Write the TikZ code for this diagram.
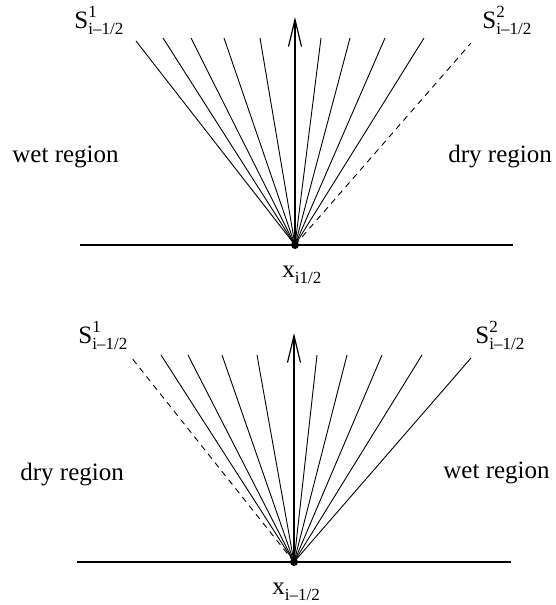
\documentclass[tikz,border=0pt]{standalone}
\usepackage{fontspec}
\setmainfont{Liberation Serif}
\usepackage{tikz}
\usetikzlibrary{arrows.meta}

\newcommand{\scriptsz}{\fontsize{8.5}{9}\selectfont}
\newcommand{\shocklab}[1]{S\rlap{\raisebox{5.2pt}{\scriptsz #1}}\raisebox{-3.2pt}{\scriptsz i\textendash 1/2}}
\newcommand{\interlab}[1]{x\raisebox{-3pt}{\scriptsz #1}}

\tikzset{
  ray/.style={line width=0.45pt},
  dryray/.style={line width=0.45pt, dash pattern=on 3pt off 2.5pt},
  axis/.style={line width=0.6pt},
  txt/.style={font=\fontsize{12.5}{15}\selectfont, inner sep=0pt, anchor=base west},
}

\begin{document}
\begin{tikzpicture}[x=0.5pt, y=-0.5pt, >={Straight Barb[length=13.5pt, width=6.5pt]}]
  \useasboundingbox (0,0) rectangle (556,605);

  % Top: dry state on the right
  \coordinate (o1) at (295,245);
  \coordinate (l1) at (80,245);
  \coordinate (r1) at (513,245);
  \coordinate (up1) at (295,17);
  \draw[axis] (l1) -- (r1);
  \foreach \n/\x/\y in {1/136/41, 2/163/38, 3/191/38, 4/224/38, 5/260/38, 6/321/38, 7/350/38, 8/385/38, 9/424/38} {
    \coordinate (a\n) at (\x,\y);
    \draw[ray] (o1) -- (a\n);
  }
  \coordinate (d1) at (471,43);
  \draw[dryray] (o1) -- (d1);
  \draw[axis, ->] (o1) -- (up1);
  \fill (o1) circle (2pt);
  \node[txt] (sa1) at (74,28) {\shocklab{1}};
  \node[txt] (sa2) at (482,28) {\shocklab{2}};
  \node[txt] (wet1) at (12,162) {wet region};
  \node[txt] (dry1) at (448,162) {dry region};
  \node[txt] (xa) at (282,277) {\interlab{i1/2}};

  % Bottom: dry state on the left
  \coordinate (o2) at (294,562);
  \coordinate (l2) at (77,562);
  \coordinate (r2) at (511,562);
  \coordinate (up2) at (294,333);
  \draw[axis] (l2) -- (r2);
  \foreach \n/\x/\y in {1/161/355, 2/188/355, 3/222/355, 4/257/355, 5/317/355, 6/347/355, 7/382/355, 8/422/355, 9/471/358} {
    \coordinate (b\n) at (\x,\y);
    \draw[ray] (o2) -- (b\n);
  }
  \coordinate (d2) at (131,357);
  \draw[dryray] (o2) -- (d2);
  \draw[axis, ->] (o2) -- (up2);
  \fill (o2) circle (2pt);
  \node[txt] (sb1) at (78,343) {\shocklab{1}};
  \node[txt] (sb2) at (475,343) {\shocklab{2}};
  \node[txt] (dry2) at (20,480) {dry region};
  \node[txt] (wet2) at (443,478) {wet region};
  \node[txt] (xb) at (272,594) {\interlab{i\textendash 1/2}};
\end{tikzpicture}
\end{document}
